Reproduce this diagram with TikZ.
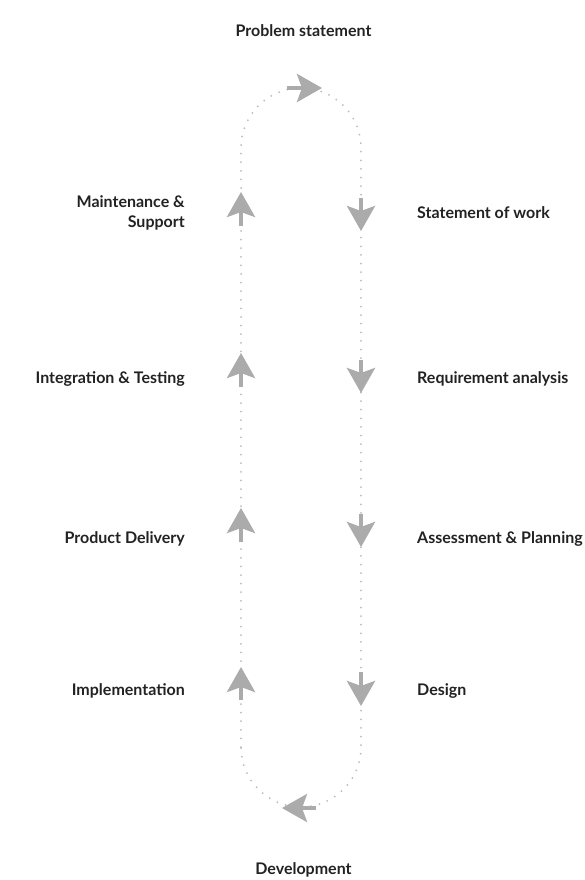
\documentclass[tikz,border=0pt]{standalone}
\usepackage{fontspec}
\setmainfont{Lato}
\usetikzlibrary{arrows.meta}
\definecolor{txt}{HTML}{222222}
\definecolor{agray}{HTML}{ABABAB}
\definecolor{dgray}{HTML}{BBBBBB}
\begin{document}
\begin{tikzpicture}[x=1pt,y=-1pt,
  lbl/.style={font=\fontsize{16}{19.5}\selectfont\bfseries, text=txt, inner sep=0pt},
  lleft/.style={lbl, anchor=east, align=right},
  lright/.style={lbl, anchor=west, align=left},
  loop/.style={draw=dgray, line width=2pt, line cap=round, dash pattern=on 0pt off 8.6pt},
  flow/.style={draw=agray, line width=4pt, -{Stealth[length=25pt,width=28pt,inset=5pt]}}]
\useasboundingbox (0,0) rectangle (584,880);
% loop
\coordinate (lb) at (241,747);
\coordinate (lt) at (241,148);
\coordinate (rb) at (361,747);
\path[loop] (lb) -- (lt) arc[start angle=180,end angle=360,radius=60] -- (rb) arc[start angle=0,end angle=180,radius=60];
% arrows
\coordinate (t1) at (287,88); \coordinate (t2) at (322,88);
\coordinate (b1) at (316,808); \coordinate (b2) at (282,808);
\draw[flow] (t1) -- (t2);
\draw[flow] (b1) -- (b2);
\foreach \n/\a/\b in {1/226/192, 2/387/353, 3/542/508, 4/700/667}{
  \coordinate (lu\n a) at (241,\a); \coordinate (lu\n b) at (241,\b);
  \draw[flow] (lu\n a) -- (lu\n b);
}
\foreach \n/\a/\b in {1/198/231, 2/360/393, 3/514/547, 4/672/706}{
  \coordinate (rd\n a) at (361,\a); \coordinate (rd\n b) at (361,\b);
  \draw[flow] (rd\n a) -- (rd\n b);
}
% labels
\node[lbl] (ps) at (303.5,31) {Problem statement};
\node[lbl] (dev) at (303.5,870) {Development};
\node[lleft] (ms) at (185,213) {Maintenance \&\\Support};
\node[lleft] (it) at (185,379) {Integration \& Testing};
\node[lleft] (pd) at (185,539) {Product Delivery};
\node[lleft] (im) at (185,691) {Implementation};
\node[lright] (sw) at (417,213) {Statement of work};
\node[lright] (ra) at (417,379) {Requirement analysis};
\node[lright] (ap) at (417,539) {Assessment \& Planning};
\node[lright] (de) at (417,691) {Design};
\end{tikzpicture}
\end{document}
